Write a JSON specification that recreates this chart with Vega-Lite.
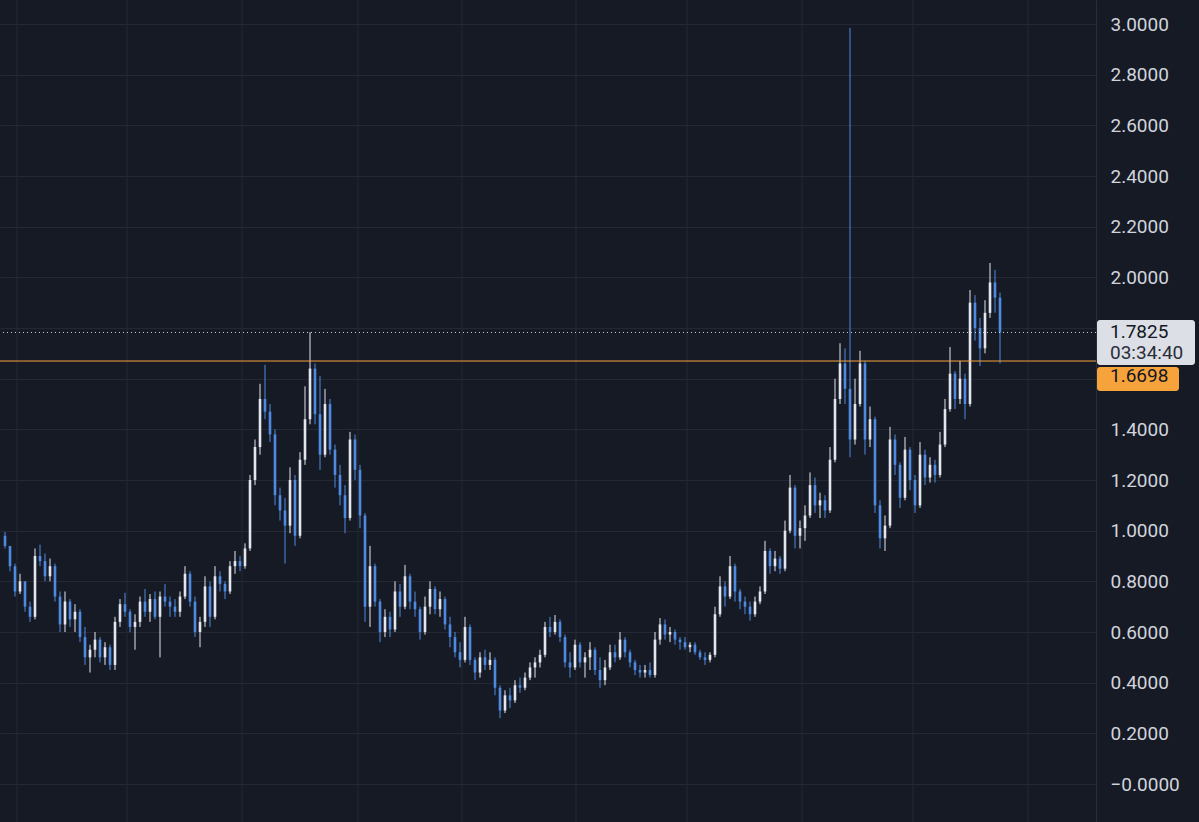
{
"$schema": "https://vega.github.io/schema/vega-lite/v6.json",
"width": 1096, "height": 822,
"autosize": "none",
"padding": {"left": 0, "top": 0, "bottom": 0, "right": 103},
"background": "#161a25",
"config": {"view": {"stroke": null}, "scale": {"continuousPadding": 0},
  "axisY": {"orient": "right", "ticks": false, "labelPadding": 14, "labelFont": "Roboto", "labelFontSize": 19, "labelColor": "#d1d4dc",
            "domainColor": "#2a2e39", "grid": true, "gridColor": "#242833", "labelBaseline": "middle", "title": null}},
"layer": [
{"data": {"values": [{"g":2.4},{"g":24.4},{"g":47.4},{"g":70.6},{"g":91.4},{"g":114.2},{"g":136.4},{"g":159.4},{"g":181.6},{"g":204.6}]},
 "mark": {"type": "rule", "color": "#242833", "strokeWidth": 1},
 "encoding": {"x": {"field": "g", "type": "quantitative", "scale": {"domain": [-1, 218.2], "nice": false, "zero": false, "padding": 0}, "axis": null}}},
{"data": {"name": "candles", "values": [
{"t":0,"o":0.98,"h":0.995,"l":0.93,"c":0.94},
{"t":1,"o":0.94,"h":0.94,"l":0.84,"c":0.86},
{"t":2,"o":0.86,"h":0.87,"l":0.74,"c":0.76},
{"t":3,"o":0.76,"h":0.83,"l":0.75,"c":0.80},
{"t":4,"o":0.80,"h":0.80,"l":0.68,"c":0.70},
{"t":5,"o":0.70,"h":0.72,"l":0.64,"c":0.66},
{"t":6,"o":0.66,"h":0.93,"l":0.65,"c":0.90},
{"t":7,"o":0.90,"h":0.945,"l":0.86,"c":0.88},
{"t":8,"o":0.88,"h":0.91,"l":0.80,"c":0.82},
{"t":9,"o":0.82,"h":0.89,"l":0.80,"c":0.86},
{"t":10,"o":0.86,"h":0.87,"l":0.72,"c":0.74},
{"t":11,"o":0.74,"h":0.76,"l":0.60,"c":0.63},
{"t":12,"o":0.63,"h":0.76,"l":0.60,"c":0.72},
{"t":13,"o":0.72,"h":0.73,"l":0.62,"c":0.65},
{"t":14,"o":0.65,"h":0.71,"l":0.60,"c":0.68},
{"t":15,"o":0.68,"h":0.69,"l":0.56,"c":0.58},
{"t":16,"o":0.58,"h":0.62,"l":0.47,"c":0.50},
{"t":17,"o":0.50,"h":0.55,"l":0.44,"c":0.53},
{"t":18,"o":0.53,"h":0.60,"l":0.50,"c":0.57},
{"t":19,"o":0.57,"h":0.58,"l":0.48,"c":0.50},
{"t":20,"o":0.50,"h":0.56,"l":0.47,"c":0.54},
{"t":21,"o":0.54,"h":0.55,"l":0.45,"c":0.47},
{"t":22,"o":0.47,"h":0.66,"l":0.45,"c":0.64},
{"t":23,"o":0.64,"h":0.73,"l":0.62,"c":0.71},
{"t":24,"o":0.71,"h":0.755,"l":0.66,"c":0.68},
{"t":25,"o":0.68,"h":0.69,"l":0.60,"c":0.62},
{"t":26,"o":0.62,"h":0.67,"l":0.53,"c":0.64},
{"t":27,"o":0.64,"h":0.74,"l":0.62,"c":0.72},
{"t":28,"o":0.72,"h":0.77,"l":0.66,"c":0.68},
{"t":29,"o":0.68,"h":0.75,"l":0.64,"c":0.73},
{"t":30,"o":0.73,"h":0.76,"l":0.65,"c":0.66},
{"t":31,"o":0.66,"h":0.76,"l":0.50,"c":0.74},
{"t":32,"o":0.74,"h":0.79,"l":0.70,"c":0.72},
{"t":33,"o":0.72,"h":0.74,"l":0.66,"c":0.70},
{"t":34,"o":0.70,"h":0.73,"l":0.66,"c":0.68},
{"t":35,"o":0.68,"h":0.76,"l":0.66,"c":0.74},
{"t":36,"o":0.74,"h":0.86,"l":0.73,"c":0.83},
{"t":37,"o":0.83,"h":0.84,"l":0.70,"c":0.72},
{"t":38,"o":0.72,"h":0.74,"l":0.58,"c":0.60},
{"t":39,"o":0.60,"h":0.66,"l":0.54,"c":0.64},
{"t":40,"o":0.64,"h":0.82,"l":0.62,"c":0.78},
{"t":41,"o":0.78,"h":0.80,"l":0.62,"c":0.66},
{"t":42,"o":0.66,"h":0.86,"l":0.65,"c":0.82},
{"t":43,"o":0.82,"h":0.84,"l":0.76,"c":0.79},
{"t":44,"o":0.79,"h":0.80,"l":0.73,"c":0.76},
{"t":45,"o":0.76,"h":0.88,"l":0.75,"c":0.86},
{"t":46,"o":0.86,"h":0.92,"l":0.83,"c":0.88},
{"t":47,"o":0.88,"h":0.90,"l":0.84,"c":0.86},
{"t":48,"o":0.86,"h":0.95,"l":0.85,"c":0.93},
{"t":49,"o":0.93,"h":1.22,"l":0.92,"c":1.20},
{"t":50,"o":1.20,"h":1.36,"l":1.18,"c":1.33},
{"t":51,"o":1.33,"h":1.58,"l":1.30,"c":1.52},
{"t":52,"o":1.52,"h":1.655,"l":1.44,"c":1.47},
{"t":53,"o":1.47,"h":1.50,"l":1.35,"c":1.38},
{"t":54,"o":1.38,"h":1.40,"l":1.10,"c":1.14},
{"t":55,"o":1.14,"h":1.17,"l":1.04,"c":1.08},
{"t":56,"o":1.08,"h":1.13,"l":0.87,"c":1.02},
{"t":57,"o":1.02,"h":1.25,"l":0.99,"c":1.20},
{"t":58,"o":1.20,"h":1.22,"l":0.94,"c":0.98},
{"t":59,"o":0.98,"h":1.31,"l":0.97,"c":1.28},
{"t":60,"o":1.28,"h":1.57,"l":1.26,"c":1.44},
{"t":61,"o":1.44,"h":1.784,"l":1.42,"c":1.64},
{"t":62,"o":1.64,"h":1.66,"l":1.42,"c":1.46},
{"t":63,"o":1.46,"h":1.61,"l":1.24,"c":1.30},
{"t":64,"o":1.30,"h":1.56,"l":1.29,"c":1.50},
{"t":65,"o":1.50,"h":1.52,"l":1.30,"c":1.32},
{"t":66,"o":1.32,"h":1.34,"l":1.17,"c":1.22},
{"t":67,"o":1.22,"h":1.26,"l":1.10,"c":1.14},
{"t":68,"o":1.14,"h":1.18,"l":0.99,"c":1.05},
{"t":69,"o":1.05,"h":1.39,"l":1.04,"c":1.36},
{"t":70,"o":1.36,"h":1.38,"l":1.20,"c":1.24},
{"t":71,"o":1.24,"h":1.26,"l":1.01,"c":1.06},
{"t":72,"o":1.06,"h":1.07,"l":0.64,"c":0.70},
{"t":73,"o":0.70,"h":0.94,"l":0.62,"c":0.86},
{"t":74,"o":0.86,"h":0.87,"l":0.70,"c":0.72},
{"t":75,"o":0.72,"h":0.73,"l":0.56,"c":0.60},
{"t":76,"o":0.60,"h":0.69,"l":0.58,"c":0.66},
{"t":77,"o":0.66,"h":0.68,"l":0.58,"c":0.61},
{"t":78,"o":0.61,"h":0.80,"l":0.60,"c":0.76},
{"t":79,"o":0.76,"h":0.79,"l":0.66,"c":0.70},
{"t":80,"o":0.70,"h":0.865,"l":0.69,"c":0.82},
{"t":81,"o":0.82,"h":0.83,"l":0.69,"c":0.72},
{"t":82,"o":0.72,"h":0.76,"l":0.66,"c":0.69},
{"t":83,"o":0.69,"h":0.70,"l":0.57,"c":0.60},
{"t":84,"o":0.60,"h":0.74,"l":0.59,"c":0.70},
{"t":85,"o":0.70,"h":0.80,"l":0.67,"c":0.77},
{"t":86,"o":0.77,"h":0.78,"l":0.67,"c":0.69},
{"t":87,"o":0.69,"h":0.76,"l":0.66,"c":0.73},
{"t":88,"o":0.73,"h":0.74,"l":0.61,"c":0.63},
{"t":89,"o":0.63,"h":0.66,"l":0.54,"c":0.58},
{"t":90,"o":0.58,"h":0.60,"l":0.50,"c":0.52},
{"t":91,"o":0.52,"h":0.56,"l":0.46,"c":0.49},
{"t":92,"o":0.49,"h":0.66,"l":0.48,"c":0.62},
{"t":93,"o":0.62,"h":0.63,"l":0.47,"c":0.49},
{"t":94,"o":0.49,"h":0.50,"l":0.41,"c":0.44},
{"t":95,"o":0.44,"h":0.52,"l":0.42,"c":0.50},
{"t":96,"o":0.50,"h":0.53,"l":0.45,"c":0.47},
{"t":97,"o":0.47,"h":0.52,"l":0.45,"c":0.49},
{"t":98,"o":0.49,"h":0.50,"l":0.35,"c":0.38},
{"t":99,"o":0.38,"h":0.39,"l":0.26,"c":0.29},
{"t":100,"o":0.29,"h":0.37,"l":0.28,"c":0.35},
{"t":101,"o":0.35,"h":0.38,"l":0.30,"c":0.33},
{"t":102,"o":0.33,"h":0.41,"l":0.32,"c":0.39},
{"t":103,"o":0.39,"h":0.42,"l":0.36,"c":0.38},
{"t":104,"o":0.38,"h":0.44,"l":0.37,"c":0.42},
{"t":105,"o":0.42,"h":0.48,"l":0.41,"c":0.46},
{"t":106,"o":0.46,"h":0.50,"l":0.42,"c":0.48},
{"t":107,"o":0.48,"h":0.53,"l":0.46,"c":0.51},
{"t":108,"o":0.51,"h":0.64,"l":0.50,"c":0.62},
{"t":109,"o":0.62,"h":0.66,"l":0.58,"c":0.60},
{"t":110,"o":0.60,"h":0.667,"l":0.59,"c":0.64},
{"t":111,"o":0.64,"h":0.65,"l":0.56,"c":0.58},
{"t":112,"o":0.58,"h":0.59,"l":0.46,"c":0.48},
{"t":113,"o":0.48,"h":0.52,"l":0.42,"c":0.46},
{"t":114,"o":0.46,"h":0.57,"l":0.45,"c":0.55},
{"t":115,"o":0.55,"h":0.56,"l":0.46,"c":0.48},
{"t":116,"o":0.48,"h":0.52,"l":0.42,"c":0.50},
{"t":117,"o":0.50,"h":0.56,"l":0.45,"c":0.53},
{"t":118,"o":0.53,"h":0.54,"l":0.43,"c":0.45},
{"t":119,"o":0.45,"h":0.50,"l":0.38,"c":0.41},
{"t":120,"o":0.41,"h":0.49,"l":0.39,"c":0.46},
{"t":121,"o":0.46,"h":0.55,"l":0.45,"c":0.52},
{"t":122,"o":0.52,"h":0.55,"l":0.48,"c":0.50},
{"t":123,"o":0.50,"h":0.60,"l":0.49,"c":0.57},
{"t":124,"o":0.57,"h":0.58,"l":0.50,"c":0.52},
{"t":125,"o":0.52,"h":0.53,"l":0.46,"c":0.48},
{"t":126,"o":0.48,"h":0.49,"l":0.43,"c":0.45},
{"t":127,"o":0.45,"h":0.47,"l":0.42,"c":0.44},
{"t":128,"o":0.44,"h":0.47,"l":0.42,"c":0.45},
{"t":129,"o":0.45,"h":0.48,"l":0.42,"c":0.43},
{"t":130,"o":0.43,"h":0.60,"l":0.42,"c":0.57},
{"t":131,"o":0.57,"h":0.655,"l":0.55,"c":0.63},
{"t":132,"o":0.63,"h":0.65,"l":0.57,"c":0.59},
{"t":133,"o":0.59,"h":0.62,"l":0.56,"c":0.60},
{"t":134,"o":0.60,"h":0.61,"l":0.55,"c":0.57},
{"t":135,"o":0.57,"h":0.58,"l":0.53,"c":0.56},
{"t":136,"o":0.56,"h":0.58,"l":0.53,"c":0.54},
{"t":137,"o":0.54,"h":0.56,"l":0.52,"c":0.55},
{"t":138,"o":0.55,"h":0.56,"l":0.51,"c":0.52},
{"t":139,"o":0.52,"h":0.53,"l":0.49,"c":0.50},
{"t":140,"o":0.50,"h":0.52,"l":0.47,"c":0.49},
{"t":141,"o":0.49,"h":0.52,"l":0.48,"c":0.51},
{"t":142,"o":0.51,"h":0.70,"l":0.50,"c":0.67},
{"t":143,"o":0.67,"h":0.82,"l":0.66,"c":0.78},
{"t":144,"o":0.78,"h":0.80,"l":0.70,"c":0.74},
{"t":145,"o":0.74,"h":0.90,"l":0.73,"c":0.86},
{"t":146,"o":0.86,"h":0.87,"l":0.72,"c":0.76},
{"t":147,"o":0.76,"h":0.77,"l":0.69,"c":0.72},
{"t":148,"o":0.72,"h":0.74,"l":0.67,"c":0.70},
{"t":149,"o":0.70,"h":0.72,"l":0.645,"c":0.67},
{"t":150,"o":0.67,"h":0.74,"l":0.66,"c":0.72},
{"t":151,"o":0.72,"h":0.78,"l":0.71,"c":0.76},
{"t":152,"o":0.76,"h":0.96,"l":0.75,"c":0.92},
{"t":153,"o":0.92,"h":0.93,"l":0.83,"c":0.86},
{"t":154,"o":0.86,"h":0.92,"l":0.84,"c":0.89},
{"t":155,"o":0.89,"h":0.90,"l":0.83,"c":0.85},
{"t":156,"o":0.85,"h":1.04,"l":0.84,"c":1.00},
{"t":157,"o":1.00,"h":1.22,"l":0.99,"c":1.17},
{"t":158,"o":1.17,"h":1.18,"l":0.93,"c":0.98},
{"t":159,"o":0.98,"h":1.04,"l":0.93,"c":1.01},
{"t":160,"o":1.01,"h":1.10,"l":0.96,"c":1.06},
{"t":161,"o":1.06,"h":1.23,"l":1.05,"c":1.18},
{"t":162,"o":1.18,"h":1.21,"l":1.07,"c":1.10},
{"t":163,"o":1.10,"h":1.15,"l":1.05,"c":1.12},
{"t":164,"o":1.12,"h":1.14,"l":1.05,"c":1.08},
{"t":165,"o":1.08,"h":1.33,"l":1.07,"c":1.28},
{"t":166,"o":1.28,"h":1.60,"l":1.27,"c":1.52},
{"t":167,"o":1.52,"h":1.74,"l":1.50,"c":1.66},
{"t":168,"o":1.66,"h":1.72,"l":1.50,"c":1.56},
{"t":169,"o":1.56,"h":2.985,"l":1.29,"c":1.36},
{"t":170,"o":1.36,"h":1.60,"l":1.34,"c":1.50},
{"t":171,"o":1.50,"h":1.71,"l":1.49,"c":1.66},
{"t":172,"o":1.66,"h":1.67,"l":1.30,"c":1.36},
{"t":173,"o":1.36,"h":1.49,"l":1.33,"c":1.44},
{"t":174,"o":1.44,"h":1.45,"l":1.07,"c":1.10},
{"t":175,"o":1.10,"h":1.12,"l":0.93,"c":0.97},
{"t":176,"o":0.97,"h":1.06,"l":0.92,"c":1.02},
{"t":177,"o":1.02,"h":1.41,"l":1.01,"c":1.36},
{"t":178,"o":1.36,"h":1.38,"l":1.22,"c":1.26},
{"t":179,"o":1.26,"h":1.27,"l":1.09,"c":1.13},
{"t":180,"o":1.13,"h":1.37,"l":1.12,"c":1.32},
{"t":181,"o":1.32,"h":1.33,"l":1.16,"c":1.20},
{"t":182,"o":1.20,"h":1.22,"l":1.07,"c":1.10},
{"t":183,"o":1.10,"h":1.35,"l":1.09,"c":1.30},
{"t":184,"o":1.30,"h":1.32,"l":1.18,"c":1.21},
{"t":185,"o":1.21,"h":1.29,"l":1.19,"c":1.26},
{"t":186,"o":1.26,"h":1.28,"l":1.19,"c":1.22},
{"t":187,"o":1.22,"h":1.39,"l":1.21,"c":1.34},
{"t":188,"o":1.34,"h":1.52,"l":1.33,"c":1.48},
{"t":189,"o":1.48,"h":1.725,"l":1.47,"c":1.62},
{"t":190,"o":1.62,"h":1.63,"l":1.48,"c":1.52},
{"t":191,"o":1.52,"h":1.67,"l":1.50,"c":1.60},
{"t":192,"o":1.60,"h":1.62,"l":1.44,"c":1.50},
{"t":193,"o":1.50,"h":1.95,"l":1.49,"c":1.90},
{"t":194,"o":1.90,"h":1.93,"l":1.75,"c":1.80},
{"t":195,"o":1.80,"h":1.84,"l":1.65,"c":1.72},
{"t":196,"o":1.72,"h":1.91,"l":1.70,"c":1.86},
{"t":197,"o":1.86,"h":2.057,"l":1.84,"c":1.98},
{"t":198,"o":1.98,"h":2.03,"l":1.86,"c":1.92},
{"t":199,"o":1.92,"h":1.94,"l":1.66,"c":1.7825}
]},
 "layer": [
  {"mark": {"type": "rule", "strokeWidth": 1},
   "encoding": {
    "x": {"field": "t", "type": "quantitative", "scale": {"domain": [-1, 218.2], "nice": false, "zero": false, "padding": 0}, "axis": null},
    "y": {"field": "l", "type": "quantitative", "title": null, "scale": {"domain": [-0.15, 3.095], "nice": false, "zero": false},
          "axis": {"values": [0,0.2,0.4,0.6,0.8,1,1.2,1.4,1.6,1.8,2,2.2,2.4,2.6,2.8,3],
                   "labelExpr": "datum.value == 0 ? '\u22120.0000' : (abs(datum.value - 1.6) < 0.01 || abs(datum.value - 1.8) < 0.01) ? '' : format(datum.value, '.4f')"}},
    "y2": {"field": "h"},
    "color": {"condition": {"test": "datum.c >= datum.o", "value": "#e3e6ed"}, "value": "#4d8ae0"}}},
  {"mark": {"type": "bar", "width": 2.6},
   "encoding": {
    "x": {"field": "t", "type": "quantitative"},
    "y": {"field": "o", "type": "quantitative", "title": null},
    "y2": {"field": "c"},
    "color": {"condition": {"test": "datum.c >= datum.o", "value": "#e3e6ed"}, "value": "#4d8ae0"}}}
 ]},
{"data": {"values": [{}]},
 "mark": {"type": "rule", "color": "#f7a33c", "strokeWidth": 1},
 "encoding": {"y": {"datum": 1.6698, "type": "quantitative", "title": null}}},
{"data": {"values": [{}]},
 "mark": {"type": "rule", "color": "#d1d4dc", "strokeWidth": 1, "strokeDash": [1, 3]},
 "encoding": {"y": {"datum": 1.7825, "type": "quantitative", "title": null}}},
{"data": {"values": [{}]},
 "mark": {"type": "rect", "color": "#dcdfe6", "cornerRadius": 3},
 "encoding": {"x": {"datum": 218.4, "type": "quantitative"}, "x2": {"datum": 238.0},
              "y": {"datum": 1.832, "type": "quantitative", "title": null}, "y2": {"datum": 1.654}}},
{"data": {"values": [{}]},
 "mark": {"type": "rect", "color": "#f7a33c", "cornerRadius": 3},
 "encoding": {"x": {"datum": 218.4, "type": "quantitative"}, "x2": {"datum": 234.8},
              "y": {"datum": 1.646, "type": "quantitative", "title": null}, "y2": {"datum": 1.551}}},
{"data": {"values": [{}]},
 "mark": {"type": "text", "align": "left", "baseline": "middle", "font": "Roboto", "fontSize": 19, "color": "#131722"},
 "encoding": {"x": {"datum": 221, "type": "quantitative"}, "y": {"datum": 1.7825, "type": "quantitative", "title": null}, "text": {"value": "1.7825"}}},
{"data": {"values": [{}]},
 "mark": {"type": "text", "align": "left", "baseline": "middle", "font": "Roboto", "fontSize": 19, "color": "#2a2e39"},
 "encoding": {"x": {"datum": 221, "type": "quantitative"}, "y": {"datum": 1.700, "type": "quantitative", "title": null}, "text": {"value": "03:34:40"}}},
{"data": {"values": [{}]},
 "mark": {"type": "text", "align": "left", "baseline": "middle", "font": "Roboto", "fontSize": 19, "color": "#131722"},
 "encoding": {"x": {"datum": 221, "type": "quantitative"}, "y": {"datum": 1.609, "type": "quantitative", "title": null}, "text": {"value": "1.6698"}}}
]
}
